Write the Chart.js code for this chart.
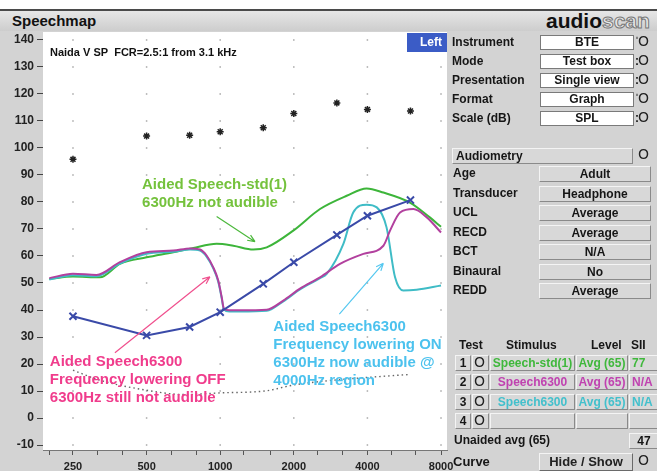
<!DOCTYPE html>
<html>
<head>
<meta charset="utf-8">
<script src="https://cdn.jsdelivr.net/npm/chart.js@4.4.1/dist/chart.umd.min.js"></script>
<style>
  * { box-sizing: border-box; }
  body { margin: 0; width: 657px; height: 471px; position: relative; overflow: hidden; background: #fff;
         font-family: "Liberation Sans", Arial, sans-serif; }
  #frame { position: absolute; left: 0; top: 10px; width: 657px; height: 461px; background: #d3d3d3; }
  #titlebar { position: absolute; left: 0; top: 9px; width: 657px; height: 22px;
              background: linear-gradient(#e6e6e6, #cdcdcd); border-top: 2px solid #4a4a4a; }
  #titlebar .ttl { position: absolute; left: 12px; top: 1px; font: bold 15px "Liberation Sans", Arial, sans-serif; color: #111; }
  #titlebar .logo { position: absolute; left: 546px; top: -2px; font: bold 21px "Liberation Sans", Arial, sans-serif; color: #111; white-space: nowrap; }
  #titlebar .logo i { font-style: normal; color: #e8e8e8; -webkit-text-stroke: 1px #777; }
  canvas { position: absolute; left: 0; top: 0; }
  .abs { position: absolute; white-space: nowrap; }
  .lbl { font: bold 12px "Liberation Sans", Arial, sans-serif; color: #161616; line-height: 15px; height: 15px; }
  .val { font: bold 12px "Liberation Sans", Arial, sans-serif; color: #161616; text-align: center; background: #fff; border: 1px solid #7a7a7a; }
  .gv { font: bold 12px "Liberation Sans", Arial, sans-serif; color: #161616; text-align: center; background: #d8d8d8;
        border: 1px solid; border-color: #f4f4f4 #8a8a8a #8a8a8a #f4f4f4; }
  .btn { font: bold 13px "Liberation Sans", Arial, sans-serif; color: #222; text-align: center; background: #d6d6d6;
         border: 1px solid; border-color: #f4f4f4 #6a6a6a #6a6a6a #f4f4f4; }
  .ring { font: 14px "DejaVu Sans", sans-serif; color: #222; }
  #note { position: absolute; left: 50px; top: 46px; font: bold 11px "Liberation Sans", Arial, sans-serif; color: #111; }
  #side { position: absolute; left: 407px; top: 33px; width: 40px; height: 19px; background: #3b5cc6; color: #fff;
          font: bold 12px "Liberation Sans", Arial, sans-serif; text-align: right; padding-right: 5px; line-height: 19px; }
</style>
</head>
<body>
<div id="frame"></div>
<div id="titlebar"><span class="ttl">Speechmap</span><span class="logo">audio<i>scan</i></span></div>
<canvas id="speechmap" width="657" height="471"></canvas>
<div id="note">Naida V SP&nbsp; FCR=2.5:1 from 3.1 kHz</div>
<div id="side">Left</div>
<script>
// frequency axis (Hz): 1/3 octave tick marks, labels on the octaves
const xTicks = [200, 250, 315, 400, 500, 630, 800, 1000, 1250, 1600, 2000, 2500, 3150, 4000, 5000, 6300, 8000];
const xLabels = [250, 500, 1000, 2000, 4000, 8000];
const yTicks = [-10, 0, 10, 20, 30, 40, 50, 60, 70, 80, 90, 100, 110, 120, 130, 140];

// Test 1: Speech-std(1) (green)
const greenFreq = [200, 250, 322, 389, 500, 643, 776, 967, 1131, 1366, 1550, 1990, 2560, 3290, 3970, 4650, 5970, 7200, 8000];
const greenDb = [51.5, 52.4, 52.1, 57.1, 59.5, 61.4, 63.0, 64.5, 63.8, 62.4, 63.2, 69.4, 77.4, 82.3, 85.0, 83.5, 79.8, 74.3, 70.8];

// Test 2: Speech6300, frequency lowering OFF (magenta)
const magentaFreq = [200, 250, 312, 389, 500, 643, 754, 827, 881, 937, 982, 1014, 1035, 1090, 1205, 1550, 1812, 2120, 2560, 3090, 3850, 4650, 4950, 5440, 6170, 7000, 8000];
const magentaDb = [51.8, 53.4, 53.0, 57.7, 61.4, 62.0, 62.8, 62.4, 60.1, 55.8, 50.9, 44.8, 40.6, 39.9, 39.9, 40.1, 43.5, 47.9, 52.1, 57.1, 60.8, 63.8, 69.4, 76.1, 77.4, 74.3, 68.7];

// Test 3: Speech6300, frequency lowering ON (cyan)
const cyanFreq = [200, 250, 312, 389, 500, 643, 754, 827, 881, 937, 982, 1014, 1035, 1090, 1205, 1550, 1812, 2120, 2560, 2727, 3190, 3500, 3970, 4370, 4790, 5190, 5610, 6360, 8000];
const cyanDb = [51.3, 52.9, 52.5, 57.2, 60.8, 61.6, 62.4, 62.0, 59.7, 55.4, 50.5, 44.4, 40.2, 39.4, 39.4, 39.7, 43.2, 47.6, 51.8, 53.4, 64.5, 76.1, 79.0, 78.0, 70.6, 52.1, 47.2, 47.5, 49.1];

// hearing threshold (blue x) and UCL (asterisks)
const audioFreq = [250, 500, 750, 1000, 1500, 2000, 3000, 4000, 6000];
const thresholdDb = [37.7, 30.6, 33.7, 39.2, 49.7, 57.7, 67.8, 74.9, 80.7];
const uclDb = [95.8, 104.4, 104.7, 106.0, 107.5, 112.8, 116.7, 114.3, 113.7];

// normal hearing (dotted)
const normalFreq = [250, 322, 500, 707, 1000, 1550, 1990, 2900, 3970, 5880];
const normalDb = [17.7, 14.0, 10.3, 8.7, 9.3, 10.1, 12.2, 14.0, 15.0, 16.1];

const font = '"Liberation Sans", Arial, sans-serif';
const pts = (xs, ys) => xs.map((x, i) => ({ x: x, y: ys[i] }));

// callout texts + arrows, anchored in (Hz, dB)
const callouts = [
  { color: '#74c23c', at: [479, 86.3], lines: ['Aided Speech-std(1)', '6300Hz not audible'],
    arrow: [[967, 74.6], [1388, 65.3]], arrowColor: '#4cb83c' },
  { color: '#f03c8c', at: [201, 20.9], lines: ['Aided Speech6300', 'Frequency lowering OFF', '6300Hz still not audible'],
    arrow: [[371, 24.2], [908, 52.3]], arrowColor: '#f0508e' },
  { color: '#4cc2ee', at: [1649, 33.8], lines: ['Aided Speech6300', 'Frequency lowering ON', '6300Hz now audible @', '4000Hz region'],
    arrow: [[3071, 38.5], [4647, 57.3]], arrowColor: '#55c8f0' }
];

const plotBg = {
  id: 'plotBg',
  beforeDraw(chart) {
    const { ctx, chartArea: a } = chart;
    ctx.save();
    ctx.fillStyle = '#fff';
    ctx.fillRect(a.left, a.top, a.right - a.left, a.bottom - a.top);
    ctx.restore();
  }
};

// dotted grid: a dot at each octave / 10 dB crossing
const gridDots = {
  id: 'gridDots',
  beforeDatasetsDraw(chart) {
    const { ctx, scales } = chart;
    ctx.save();
    ctx.fillStyle = '#a8a8a8';
    xLabels.forEach(f => {
      yTicks.forEach(v => {
        const px = scales.x.getPixelForValue(f);
        const py = scales.y.getPixelForValue(v);
        ctx.fillRect(px - 0.75, py - 0.75, 1.5, 1.5);
      });
    });
    ctx.restore();
  }
};

function arrow(ctx, x1, y1, x2, y2) {
  const ang = Math.atan2(y2 - y1, x2 - x1);
  ctx.beginPath();
  ctx.moveTo(x1, y1);
  ctx.lineTo(x2, y2);
  ctx.moveTo(x2, y2);
  ctx.lineTo(x2 - 8 * Math.cos(ang - 0.4), y2 - 8 * Math.sin(ang - 0.4));
  ctx.moveTo(x2, y2);
  ctx.lineTo(x2 - 8 * Math.cos(ang + 0.4), y2 - 8 * Math.sin(ang + 0.4));
  ctx.stroke();
}

const notes = {
  id: 'notes',
  afterDatasetsDraw(chart) {
    const { ctx, scales } = chart;
    ctx.save();
    callouts.forEach(c => {
      ctx.fillStyle = c.color;
      ctx.font = 'bold 15px ' + font;
      ctx.textBaseline = 'middle';
      const x0 = scales.x.getPixelForValue(c.at[0]);
      const y0 = scales.y.getPixelForValue(c.at[1]);
      c.lines.forEach((t, i) => ctx.fillText(t, x0, y0 + i * 18));
      ctx.strokeStyle = c.arrowColor;
      ctx.lineWidth = 1.2;
      arrow(ctx,
        scales.x.getPixelForValue(c.arrow[0][0]), scales.y.getPixelForValue(c.arrow[0][1]),
        scales.x.getPixelForValue(c.arrow[1][0]), scales.y.getPixelForValue(c.arrow[1][1]));
    });
    ctx.restore();
  }
};

const ctx = document.getElementById('speechmap').getContext('2d');
new Chart(ctx, {
  type: 'line',
  data: {
    datasets: [
      { label: 'Threshold', data: pts(audioFreq, thresholdDb), borderColor: '#3a4aa8', borderWidth: 2,
        pointStyle: 'crossRot', pointRadius: 5, pointBorderWidth: 2, pointBorderColor: '#3a4aa8', tension: 0, order: 0 },
      { label: 'Speech6300 OFF', data: pts(magentaFreq, magentaDb), borderColor: '#b2409e', borderWidth: 2,
        pointRadius: 0, cubicInterpolationMode: 'monotone', order: 1 },
      { label: 'Speech6300 ON', data: pts(cyanFreq, cyanDb), borderColor: '#3fbcc6', borderWidth: 2,
        pointRadius: 0, cubicInterpolationMode: 'monotone', order: 2 },
      { label: 'Speech-std(1)', data: pts(greenFreq, greenDb), borderColor: '#3db53a', borderWidth: 2,
        pointRadius: 0, cubicInterpolationMode: 'monotone', order: 3 },
      { label: 'Normal', data: pts(normalFreq, normalDb), borderColor: '#666', borderWidth: 1.4, borderDash: [1.5, 3],
        pointRadius: 0, cubicInterpolationMode: 'monotone', order: 4 },
      { label: 'UCL', data: pts(audioFreq, uclDb), showLine: false, pointStyle: 'star', pointRadius: 3.5,
        pointBorderWidth: 1.5, pointBorderColor: '#222', borderColor: '#222', order: 5 }
    ]
  },
  options: {
    responsive: false,
    animation: false,
    events: [],
    layout: { padding: { top: 32, right: 210, left: 0, bottom: 0 } },
    plugins: { legend: { display: false }, tooltip: { enabled: false } },
    scales: {
      x: {
        type: 'logarithmic', min: 188.5, max: 8464,
        afterBuildTicks: s => { s.ticks = xTicks.map(v => ({ value: v })); },
        afterFit: s => { s.height = 21; },
        ticks: { autoSkip: false, maxRotation: 0, padding: 5, color: '#222',
                 font: { family: font, size: 11, weight: 'bold' },
                 callback: v => xLabels.includes(v) ? String(v) : '' },
        grid: { drawOnChartArea: false, tickLength: 5, color: '#555' },
        border: { display: true, color: '#777' }
      },
      y: {
        min: -11.85, max: 142.96,
        afterBuildTicks: s => { s.ticks = yTicks.map(v => ({ value: v })); },
        afterFit: s => { s.width = 43; },
        ticks: { padding: 3, color: '#222', font: { family: font, size: 12, weight: 'bold' } },
        grid: { drawOnChartArea: false, tickLength: 6, color: '#444' },
        border: { display: false }
      }
    }
  },
  plugins: [plotBg, gridDots, notes]
});

// ---- right hand control panel ----
function put(cls, text, x, y, w, h, color) {
  const d = document.createElement('div');
  d.className = 'abs ' + cls;
  d.textContent = text;
  d.style.left = x + 'px';
  d.style.top = y + 'px';
  if (w) d.style.width = w + 'px';
  if (h) { d.style.height = h + 'px'; d.style.lineHeight = (h - 2) + 'px'; }
  if (color) d.style.color = color;
  document.body.appendChild(d);
}

const setupRows = [['Instrument', 'BTE', 'ˈ'], ['Mode', 'Test box', ':'], ['Presentation', 'Single view', ':'],
                   ['Format', 'Graph', 'ˈ'], ['Scale (dB)', 'SPL', ':']];
setupRows.forEach((r, i) => {
  const y = 35 + i * 19;
  put('lbl', r[0], 452, y);
  put('val', r[1], 540, y, 94, 15);
  put('lbl', r[2], 635, y);
  put('ring', 'O', 638, y - 2);
});

put('gv', 'Audiometry', 452, 148, 181, 16);
document.body.lastChild.style.textAlign = 'left';
document.body.lastChild.style.paddingLeft = '3px';
put('ring', 'O', 638, 146);

const audioRows = [['Age', 'Adult'], ['Transducer', 'Headphone'], ['UCL', 'Average'], ['RECD', 'Average'],
                   ['BCT', 'N/A'], ['Binaural', 'No'], ['REDD', 'Average']];
audioRows.forEach((r, i) => {
  const y = 166 + i * 19.5;
  put('lbl', r[0], 453, y);
  put('gv', r[1], 539, y, 112, 16);
});

put('lbl', 'Test', 459, 338);
put('lbl', 'Stimulus', 506, 338);
put('lbl', 'Level', 591, 338);
put('lbl', 'SII', 631, 338);

const tests = [['1', 'Speech-std(1)', 'Avg (65)', '77', '#3fb83c'],
               ['2', 'Speech6300', 'Avg (65)', 'N/A', '#c042b0'],
               ['3', 'Speech6300', 'Avg (65)', 'N/A', '#42c0cc'],
               ['4', '', '', '', '#222']];
tests.forEach((t, i) => {
  const y = 355 + i * 19.3;
  put('gv', t[0], 455, y, 16, 16);
  put('gv', '', 472, y, 17, 16);
  put('ring', 'O', 474, y - 1);
  put('gv', t[1], 490, y, 85, 16, t[4]);
  put('gv', t[2], 576, y, 52, 16, t[4]);
  put('gv', t[3], 629, y, 30, 16, t[4]);
  document.body.lastChild.style.textAlign = 'left';
  document.body.lastChild.style.paddingLeft = '2px';
});

put('lbl', 'Unaided avg (65)', 454, 433);
put('gv', '47', 629, 433, 30, 16);
put('lbl', 'Curve', 453, 454);
document.body.lastChild.style.fontSize = '13px';
put('btn', 'Hide / Show', 539, 453, 94, 18);
put('ring', 'O', 638, 452);
</script>
</body>
</html>
